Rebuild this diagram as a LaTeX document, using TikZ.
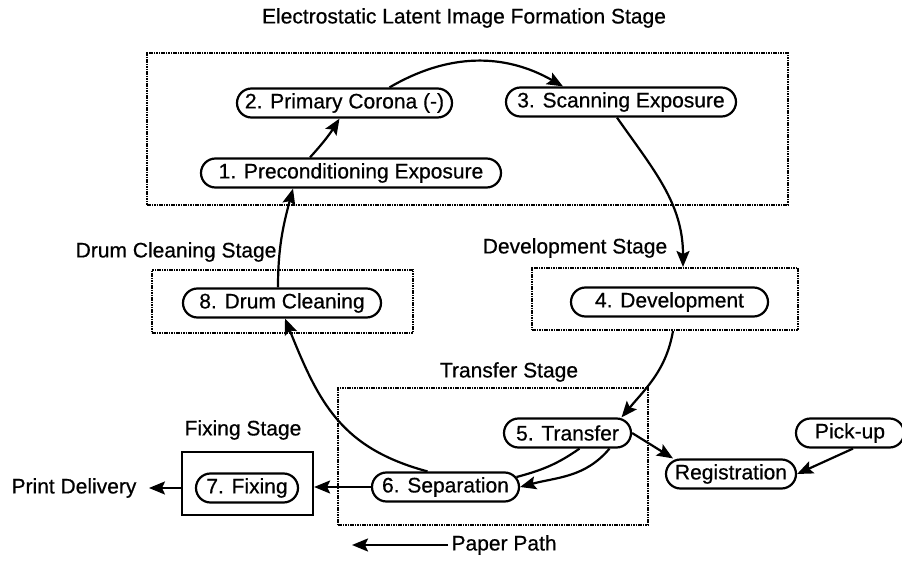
\documentclass[tikz,border=0pt]{standalone}
\usepackage{fontspec}
\setmainfont{Liberation Sans}[FakeBold=0.6]
\usetikzlibrary{shapes.misc, arrows.meta, fit, positioning}

\begin{document}
\begin{tikzpicture}[x=1pt, y=1pt,
        every node/.style={font=\fontsize{21}{24}\selectfont},
        proc/.style={draw, rounded rectangle, line width=2.2pt, minimum height=29pt, inner xsep=4pt, inner ysep=0pt},
        stagebox/.style={draw, dash pattern=on 1.6pt off 0.8pt, line width=2pt, inner sep=0pt},
        fixbox/.style={draw, line width=2.2pt, inner sep=0pt},
        drum/.style={line width=2.2pt},
        flow/.style={line width=2.2pt, -{Stealth[length=16pt, width=13pt, inset=3pt]}}]
        \useasboundingbox (0,0) rectangle (902,560);

        \node[stagebox, fit={(147,355) (788,507)}] (elbox) {};
        \node[stagebox, fit={(152,227) (413,290)}] (cleanbox) {};
        \node[stagebox, fit={(532,230) (798,292)}] (devbox) {};
        \node[stagebox, fit={(338,35) (648,172)}] (transbox) {};
        \node[fixbox, fit={(182,45) (313,108)}] (fixbox) {};

        \node (eltitle) at (464,542) {Electrostatic Latent Image Formation Stage};
        \node[anchor=east] (cleanlabel) at (280,308) {Drum Cleaning Stage};
        \node (devlabel) at (575,312) {Development Stage};
        \node (translabel) at (509,188) {Transfer Stage};
        \node (fixlabel) at (243,130) {Fixing Stage};
        \node (delivery) at (74,72) {Print Delivery};
        \node[anchor=west] (paperpath) at (448,15) {Paper Path};
        \coordinate (pathend) at (352,15);

        \node[proc, minimum width=308pt] (precond) at (351,387) {1. Preconditioning Exposure};
        \node[proc, minimum width=223pt] (corona) at (344.5,457) {2. Primary Corona (-)};
        \node[proc, minimum width=238pt] (scanning) at (621,458) {3. Scanning Exposure};
        \node[proc, minimum width=205pt] (develop) at (669.5,258) {4. Development};
        \node[proc, minimum width=135pt] (transfer) at (567.5,127) {5. Transfer};
        \node[proc, minimum width=155pt] (separate) at (445.5,73) {6. Separation};
        \node[proc, minimum width=110pt] (fixing) at (247,72) {7. Fixing};
        \node[proc, minimum width=206pt] (drumclean) at (282,257) {8. Drum Cleaning};
        \node[proc, minimum width=138pt] (regist) at (731,86) {Registration};
        \node[proc, minimum width=116pt] (pickup) at (850,127) {Pick-up};

        \draw[flow] ([xshift=-41pt]precond.north) to[bend right=5] ([xshift=-5pt]corona.south);
        \draw[flow] ([xshift=45pt]corona.north) to[bend left=30] ([xshift=-58pt]scanning.north);
        \draw[flow] ([xshift=-4pt]scanning.south) to[out=-55, in=90] ([xshift=18pt]devbox.north);
        \draw[flow] ([xshift=8pt]devbox.south) to[out=-100, in=50] ([xshift=54pt]transfer.north);
        \draw[drum] ([xshift=12pt]transfer.south) to[out=-145, in=15] (separate.8);
        \draw[flow] ([xshift=42pt]transfer.south) to[out=-130, in=15] (separate.east);
        \draw[flow] ([xshift=-18pt]separate.north) to[out=165, in=-68, looseness=1.1] ([xshift=3pt]drumclean.south);
        \draw[flow] ([xshift=-4pt]drumclean.north) to[out=90, in=-105] ([xshift=-58pt]precond.south);

        \draw[flow] (separate.west) -- (separate.west -| fixbox.east);
        \draw[flow] (fixbox.west |- fixing) -- ([xshift=9pt]delivery.east);
        \draw[flow] (transfer.east) -- ([xshift=-58pt]regist.north);
        \draw[flow] ([xshift=3pt]pickup.south) -- (regist.east);
        \draw[flow] (paperpath.west) -- (pathend);
\end{tikzpicture}
\end{document}
